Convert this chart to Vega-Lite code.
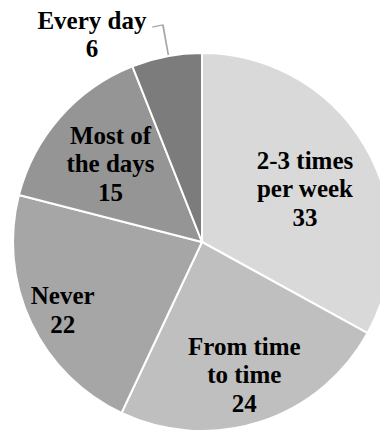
{
  "$schema": "https://vega.github.io/schema/vega-lite/v6.json",
  "width": 356,
  "height": 376,
  "autosize": {"type": "none"},
  "padding": {"left": 24, "top": 54, "right": 0, "bottom": 0},
  "background": "white",
  "config": {"view": {"stroke": null}},
  "data": {
    "values": [
      {"idx": 1, "name": "2-3 times\nper week", "value": 33},
      {"idx": 2, "name": "From time\nto time", "value": 24},
      {"idx": 3, "name": "Never", "value": 22},
      {"idx": 4, "name": "Most of\nthe days", "value": 15},
      {"idx": 5, "name": "Every day", "value": 6}
    ]
  },
  "encoding": {
    "theta": {"field": "value", "type": "quantitative", "stack": true},
    "order": {"field": "idx", "type": "quantitative"}
  },
  "layer": [
    {
      "mark": {"type": "arc", "radius": 189, "stroke": "white", "strokeWidth": 2},
      "encoding": {
        "color": {
          "field": "name",
          "type": "nominal",
          "sort": null,
          "legend": null,
          "scale": {
            "domain": ["2-3 times\nper week", "From time\nto time", "Never", "Most of\nthe days", "Every day"],
            "range": ["#d9d9d9", "#bfbfbf", "#a6a6a6", "#959595", "#7c7c7c"]
          }
        }
      }
    },
    {
      "transform": [{"filter": "datum.idx === 5"}],
      "mark": {"type": "arc", "radius": 220.5, "radius2": 190, "fill": "#a6a6a6"},
      "encoding": {
        "theta": {"datum": 97.1, "type": "quantitative"},
        "theta2": {"datum": 97.23}
      }
    },
    {
      "transform": [{"filter": "datum.idx === 5"}],
      "mark": {"type": "arc", "radius": 221.2, "radius2": 219.8, "fill": "#a6a6a6"},
      "encoding": {
        "theta": {"datum": 96.38, "type": "quantitative"},
        "theta2": {"datum": 97.2}
      }
    },
    {
      "transform": [{"calculate": "datum.name + '\\n' + datum.value", "as": "label"}],
      "mark": {
        "type": "text",
        "font": "Liberation Serif",
        "fontWeight": "bold",
        "fontSize": 25,
        "lineHeight": 28.5,
        "lineBreak": "\n",
        "align": "center",
        "baseline": "middle",
        "color": "#000000",
        "radius": {"expr": "datum.idx === 1 ? 115 : datum.idx === 2 ? 137 : datum.idx === 3 ? 154 : datum.idx === 4 ? 122 : 214"},
        "dx": {"expr": "datum.idx === 5 ? -70 : datum.idx === 1 ? 4 : 0"},
        "dy": {"expr": "-(length(split(datum.label, '\\n')) - 1) * 14.25 + (datum.idx === 1 ? 6 : 3)"}
      },
      "encoding": {"text": {"field": "label", "type": "nominal"}}
    }
  ]
}
